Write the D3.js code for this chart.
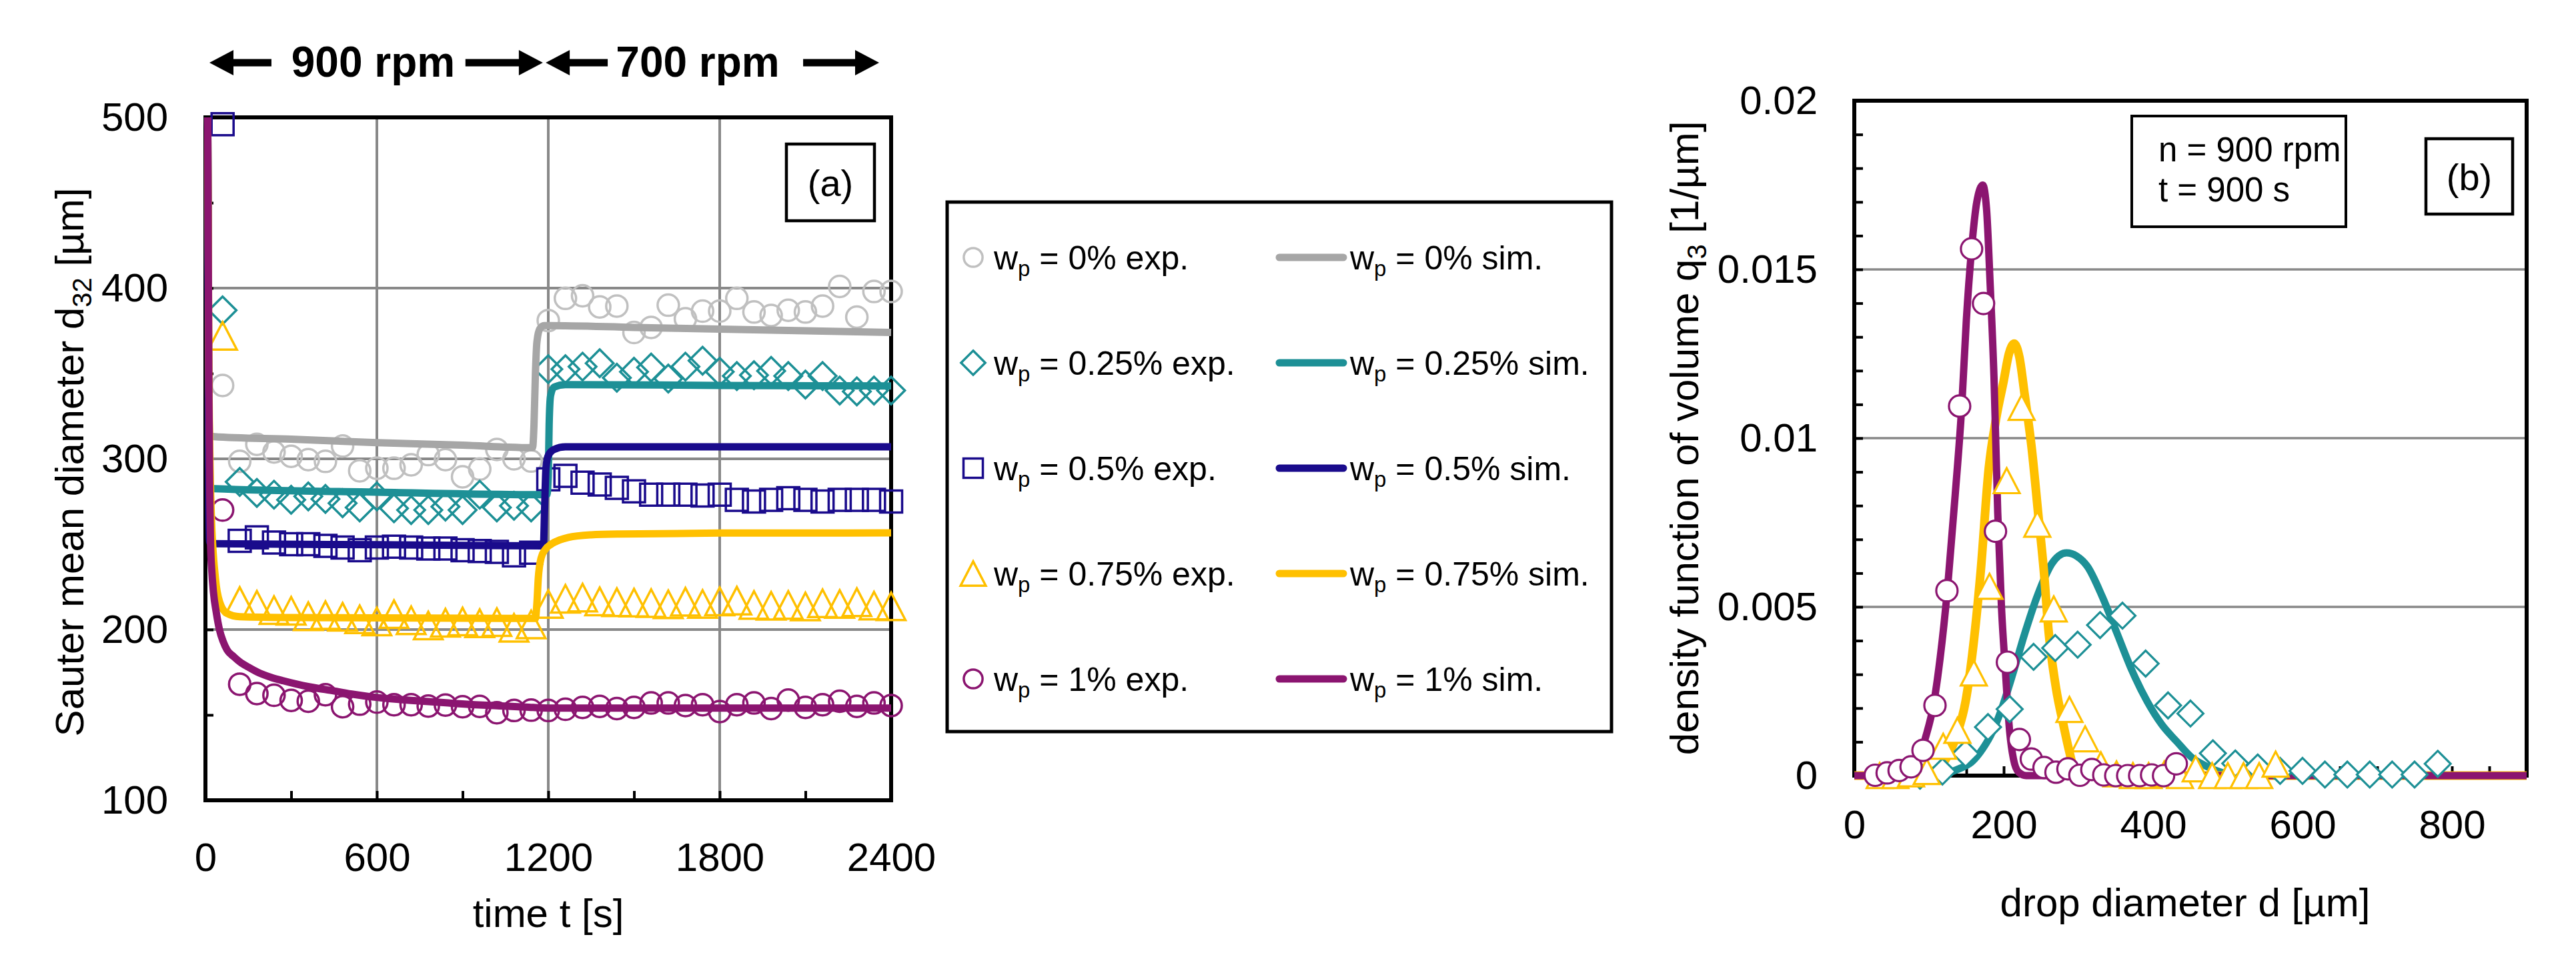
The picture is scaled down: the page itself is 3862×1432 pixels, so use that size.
<!DOCTYPE html>
<html>
<head>
<meta charset="utf-8">
<script src="https://cdn.jsdelivr.net/npm/d3@7"></script>
<style>
html,body{margin:0;padding:0;background:#fff;}
</style>
</head>
<body>
<svg id="chart" width="3862" height="1432"></svg>
<script>
'use strict';
// ---------- panel (a): d32 over time ----------
const tExp = [60,120,180,240,300,360,420,480,540,600,660,720,780,840,900,960,1020,1080,1140,
  1200,1260,1320,1380,1440,1500,1560,1620,1680,1740,1800,1860,1920,1980,2040,2100,2160,2220,2280,2340,2400];
const d32Exp0 = [343,298.5,308.5,304,301.5,299.5,298.5,307.5,293,294.5,294.5,296.5,302.5,299.5,289.5,294,305.5,300,298.7,
  381,394,395.5,389,389.5,374,377,390,382,386.5,386.5,394,386,384,387,386,389.5,401,383,398,398];
const d32Exp025 = [387,286.5,280,279,276,278,276.5,274,271.5,278,271,270,270,272,270,279,271.5,272.5,271.5,
  352.5,352.5,354,356,347.5,351,353.5,347,354,357.5,351,348.5,349,351.5,348.5,343.5,348.5,340,339.5,340,340];
const d32Exp05 = [496,252,254,251,250,250,249,248,246.5,248,248.5,248,247.5,247.5,246.5,246,245.5,243.5,245,
  288,290,286,285,283,281,279,279,279,278.5,279,276,275,276,277,276,275,276,276,276,275];
const d32Exp075 = [372,216.7,214.5,211.4,211,207.8,208.4,207.5,206,204.7,209,205.4,202.4,204,204.7,203.7,204.3,201,203,
  215,218,218.7,216.5,216,215.8,215.5,214.8,216.3,215,216.5,216.9,214.4,213.9,214.4,213.5,215.4,215,216,214,213.6];
const d32Exp1 = [270,168,162.5,161.5,158.5,158,161.8,154.8,156.3,157.5,156,156,155.2,155.8,154.8,155,151.3,152.6,152.8,
  152.6,153.3,154.4,155,153.7,154.4,157,157,155.5,156,152,156,157,153.7,158.7,154.4,156,158,155,157,155.5];

const d32Sim0 = [[8,500],[10,420],[12,330],[15,314],[30,313],[300,311.5],[600,309.5],[900,308],[1145,306.5],[1150,320],
  [1155,350],[1160,368],[1170,376],[1185,378],[1200,378],[1500,377],[1800,376],[2100,375],[2400,374]];
const d32Sim025 = [[8,500],[10,400],[12,300],[15,283],[30,282.5],[600,280.5],[1195,279],[1200,290],[1203,320],[1208,337],
  [1220,342],[1260,343.5],[1800,343],[2400,342.7]];
const d32Sim05 = [[8,500],[10,380],[12,270],[15,251],[30,250.3],[600,249.7],[1183,249],[1187,270],[1192,295],[1200,302],
  [1220,305.5],[1260,307],[2400,307]];
const d32Sim075 = [[8,500],[12,350],[20,270],[35,230],[50,216],[75,209.5],[120,207.5],[300,207],[1155,206.5],[1160,215],
  [1165,230],[1175,242],[1190,247],[1210,250],[1240,252.5],[1270,254],[1350,255.5],[1450,256],[1800,256.5],[2400,256.6]];
const d32Sim1 = [[8,500],[10,420],[12,340],[15,280],[18,250],[22,235],[28,222],[38,210],[49,200],[62,193],[76,188],
  [100,184],[121,181],[150,178],[183,175],[230,172],[272,170],[320,168],[362,166.5],[451,164],[520,162],[585,160.5],
  [680,159],[764,158],[850,157],[943,156],[1030,155.3],[1121,154.6],[1200,154],[1800,154],[2400,154]];

const legendLabels = ['0%','0.25%','0.5%','0.75%','1%'];
const yTicksA = [100,200,300,400,500];
const yMinorA = [150,250,350,450];
const xTicksA = [0,600,1200,1800,2400];
const xMinorA = [300,900,1500,2100];

// ---------- panel (b): volume density at n = 900 rpm, t = 900 s ----------
const dExp025 = [88,118,149,179,208,240,269,299,329,359,390,420,450,480,510,540,570,600,630,660,690,720,750,781];
const qExp025 = [0,0.00012,0.00065,0.00144,0.00197,0.00352,0.00378,0.00388,0.00446,0.00474,0.00332,0.00208,0.00184,
  0.00066,0.00036,0.00024,0.00014,0.00014,0.00003,0.00003,0.00003,0.00003,0.00003,0.00035];
const dExp075 = [34,55,76,97,119,138,160,181,204,224,245,267,288,309,330,351,373,394,415,436,457,479,500,521,542,564];
const qExp075 = [0,0,0.00005,0.00012,0.00087,0.00134,0.00304,0.00561,0.00874,0.01091,0.00745,0.00494,0.00196,0.00109,
  0.00032,0.00005,0,0,0.00005,0,0.0002,0,0,0,0,0.00034];
const dExp1 = [28,44,60,76,92,108,124,141,157,173,189,205,221,237,254,270,286,302,318,334,350,366,382,398,414,431];
const qExp1 = [0.00001,0.00008,0.00015,0.00026,0.00075,0.00208,0.00548,0.01095,0.01561,0.01399,0.00724,0.00336,0.00107,
  0.00049,0.00024,0.0001,0.0002,0.00001,0.00018,0.00002,0,0,0,0.00002,0,0.00035];

const qSim025 = [[0,0],[110,0],[120,0.00005],[140,0.0002],[157,0.0004],[172,0.0008],[185,0.0013],[196,0.0019],[212,0.003],
  [228,0.0042],[248,0.0055],[265,0.0063],[284,0.0066],[298,0.0065],[312,0.0062],[332,0.0053],[352,0.0042],[372,0.0031],
  [392,0.0022],[412,0.0015],[432,0.001],[451,0.00055],[471,0.00028],[491,0.0001],[520,0],[900,0]];
const qSim075 = [[0,0],[90,0],[103,0.0001],[120,0.0004],[137,0.0012],[149,0.0022],[158,0.0036],[169,0.006],[180,0.0091],
  [190,0.0106],[200,0.0117],[207,0.0125],[214,0.0128],[221,0.0124],[228,0.0113],[238,0.0096],[246,0.0078],[254,0.006],
  [260,0.0043],[270,0.0026],[280,0.0015],[288,0.0007],[296,0.0001],[310,0],[900,0]];
const qSim1 = [[0,0],[60,0],[75,0.0001],[85,0.0004],[95,0.0011],[106,0.0021],[115,0.0035],[125,0.0056],[135,0.0083],
  [144,0.011],[150,0.0135],[157,0.0156],[164,0.017],[172,0.0175],[177,0.0168],[182,0.0145],[187,0.0118],[192,0.0078],
  [197,0.005],[202,0.0032],[208,0.0013],[213,0.0005],[220,0.0001],[230,0],[900,0]];

const yTicksB = [0,0.005,0.01,0.015,0.02];
const yMinorB = [0.001,0.002,0.003,0.004,0.006,0.007,0.008,0.009,0.011,0.012,0.013,0.014,0.016,0.017,0.018,0.019];
const xTicksB = [0,200,400,600,800];
const xMinorB = [50,100,150,250,300,350,450,500,550,650,700,750,850,900];

const FONT = '"Liberation Sans", Arial, Helvetica, sans-serif';
const col = { grayM:'#c0c0c0', grayL:'#a6a6a6', teal:'#1d9096', navy:'#1a0b8c', yellow:'#ffc000', purple:'#8b1570', grid:'#898989' };

const svg = d3.select('#chart').style('font-family', FONT);

const xA = d3.scaleLinear().domain([0,2400]).range([308,1336]);
const yA = d3.scaleLinear().domain([100,500]).range([1200,176]);
const xB = d3.scaleLinear().domain([0,900]).range([2780,3788]);
const yB = d3.scaleLinear().domain([0,0.02]).range([1163,151]);

function markerPath(shape, s) {
  const p = d3.path();
  if (shape==='circle') { p.arc(0,0,s,0,2*Math.PI); p.closePath(); }
  else if (shape==='square') { p.rect(-s,-s,2*s,2*s); }
  else if (shape==='diamond') { const k=s*1.25; p.moveTo(0,-k); p.lineTo(k,0); p.lineTo(0,k); p.lineTo(-k,0); p.closePath(); }
  else { const h=s*1.25, w=s*1.3; p.moveTo(0,-h); p.lineTo(w,h); p.lineTo(-w,h); p.closePath(); }
  return p.toString();
}

function subText(sel, parts, subSize) {
  parts.forEach(([txt, sub], i) => {
    const t = sel.append('tspan').text(txt);
    if (sub) t.style('font-size', subSize+'px').attr('dy', '0.3em');
    else if (i>0 && parts[i-1][1]) t.attr('dy', '-0.2em');
  });
  return sel;
}

function styleAxis(g, fs) {
  g.select('.domain').remove();
  g.selectAll('.tick line').attr('stroke','#000').attr('stroke-width',4);
  g.selectAll('.tick text').attr('fill','#000').style('font-size',fs+'px').style('font-family',FONT);
}

// ===== panel (a) =====
const pa = svg.append('g');
pa.selectAll('line.vg').data([600,1200,1800]).join('line')
  .attr('x1',d=>xA(d)).attr('x2',d=>xA(d)).attr('y1',yA(100)).attr('y2',yA(500))
  .attr('stroke',col.grid).attr('stroke-width',4);
pa.selectAll('line.hg').data([200,300,400]).join('line')
  .attr('x1',xA(0)).attr('x2',xA(2400)).attr('y1',d=>yA(d)).attr('y2',d=>yA(d))
  .attr('stroke',col.grid).attr('stroke-width',4);

pa.append('g').attr('transform',`translate(${xA(0)},0)`)
  .call(d3.axisLeft(yA).tickValues(yTicksA).tickSize(-12).tickPadding(56)).call(styleAxis,60);
pa.append('g').attr('transform',`translate(${xA(0)},0)`)
  .call(d3.axisLeft(yA).tickValues(yMinorA).tickSize(-12).tickFormat('')).call(styleAxis,60);
pa.append('g').attr('transform',`translate(0,${yA(100)})`)
  .call(d3.axisBottom(xA).tickValues(xTicksA).tickSize(-14).tickPadding(63).tickFormat(d3.format('d'))).call(styleAxis,60);
pa.append('g').attr('transform',`translate(0,${yA(100)})`)
  .call(d3.axisBottom(xA).tickValues(xMinorA).tickSize(-14).tickFormat('')).call(styleAxis,60);

pa.append('rect').attr('x',xA(0)).attr('y',yA(500)).attr('width',xA(2400)-xA(0)).attr('height',yA(100)-yA(500))
  .attr('fill','none').attr('stroke','#000').attr('stroke-width',6);

const seriesA = [
  { exp:d32Exp0,   sim:d32Sim0,   shape:'circle',   mark:col.grayM,  line:col.grayL },
  { exp:d32Exp025, sim:d32Sim025, shape:'diamond',  mark:col.teal,   line:col.teal },
  { exp:d32Exp05,  sim:d32Sim05,  shape:'square',   mark:col.navy,   line:col.navy },
  { exp:d32Exp075, sim:d32Sim075, shape:'triangle', mark:col.yellow, line:col.yellow },
  { exp:d32Exp1,   sim:d32Sim1,   shape:'circle',   mark:col.purple, line:col.purple }
];
const lineA = d3.line().x(d=>xA(d[0])).y(d=>yA(d[1])).curve(d3.curveMonotoneX);
const markSizeA = { circle:16, square:16.5, diamond:16.5, triangle:16.5 };

seriesA.forEach(s => {
  pa.append('g').selectAll('path').data(tExp.map((t,i)=>[t,s.exp[i]])).join('path')
    .attr('transform',d=>`translate(${xA(d[0])},${yA(d[1])})`)
    .attr('d',markerPath(s.shape, markSizeA[s.shape]))
    .attr('fill','none').attr('stroke',s.mark).attr('stroke-width',3.5).attr('stroke-linejoin','miter');
});
seriesA.forEach(s => {
  pa.append('path').datum(s.sim).attr('d',lineA)
    .attr('fill','none').attr('stroke',s.line).attr('stroke-width',11).attr('stroke-linejoin','round');
});

// axis titles (a)
subText(pa.append('text').attr('transform','translate(125,693) rotate(-90)').attr('text-anchor','middle')
  .style('font-size','60px').attr('fill','#000'),
  [['Sauter mean diameter d',false],['32',true],[' [µm]',false]], 40);
pa.append('text').attr('x',(xA(0)+xA(2400))/2).attr('y',1390).attr('text-anchor','middle')
  .style('font-size','60px').text('time t [s]');

// panel tag (a)
pa.append('rect').attr('x',1179).attr('y',216).attr('width',132).attr('height',115)
  .attr('fill','#fff').attr('stroke','#000').attr('stroke-width',4.5);
pa.append('text').attr('x',1245).attr('y',294).attr('text-anchor','middle').style('font-size','56px').text('(a)');

// speed annotation above (a)
const ann = pa.append('g');
function arrow(t0, t1) {
  const x0 = xA(t0), x1 = xA(t1), y = 94, dir = Math.sign(x1-x0), head = 36;
  ann.append('line').attr('x1',x0).attr('x2',x1-dir*head*0.8).attr('y1',y).attr('y2',y)
    .attr('stroke','#000').attr('stroke-width',11);
  ann.append('path').attr('d',`M${x1},${y}L${x1-dir*head},${y-19}L${x1-dir*head},${y+19}Z`).attr('fill','#000');
}
arrow(231,14); arrow(910,1181); arrow(1408,1191); arrow(2092,2358);
ann.append('text').attr('x',xA(587)).attr('y',115).attr('text-anchor','middle')
  .style('font-size','64px').style('font-weight','bold').text('900 rpm');
ann.append('text').attr('x',xA(1723)).attr('y',115).attr('text-anchor','middle')
  .style('font-size','64px').style('font-weight','bold').text('700 rpm');

// legend
const lg = svg.append('g');
lg.append('rect').attr('x',1420).attr('y',303).attr('width',996).attr('height',794)
  .attr('fill','#fff').attr('stroke','#000').attr('stroke-width',5);
seriesA.forEach((s,i) => {
  const y = 386 + i*158;
  lg.append('path').attr('transform',`translate(1459,${y})`).attr('d',markerPath(s.shape, markSizeA[s.shape]*0.88))
    .attr('fill','none').attr('stroke',s.mark).attr('stroke-width',3.5);
  subText(lg.append('text').attr('x',1490).attr('y',y+18).style('font-size','50px'),
    [['w',false],['p',true],[` = ${legendLabels[i]} exp.`,false]], 33);
  lg.append('line').attr('x1',1918).attr('x2',2014).attr('y1',y).attr('y2',y)
    .attr('stroke',s.line).attr('stroke-width',11).attr('stroke-linecap','round');
  subText(lg.append('text').attr('x',2024).attr('y',y+18).style('font-size','50px'),
    [['w',false],['p',true],[` = ${legendLabels[i]} sim.`,false]], 33);
});

// ===== panel (b) =====
const pb = svg.append('g');
pb.selectAll('line.hg').data([0.005,0.01,0.015]).join('line')
  .attr('x1',xB(0)).attr('x2',xB(900)).attr('y1',d=>yB(d)).attr('y2',d=>yB(d))
  .attr('stroke',col.grid).attr('stroke-width',3.5);
pb.append('g').attr('transform',`translate(${xB(0)},0)`)
  .call(d3.axisLeft(yB).tickValues(yTicksB).tickSize(-13).tickPadding(55).tickFormat(d=>d===0?'0':String(d))).call(styleAxis,60);
pb.append('g').attr('transform',`translate(${xB(0)},0)`)
  .call(d3.axisLeft(yB).tickValues(yMinorB).tickSize(-13).tickFormat('')).call(styleAxis,60);
pb.append('g').attr('transform',`translate(0,${yB(0)})`)
  .call(d3.axisBottom(xB).tickValues(xTicksB).tickSize(-14).tickPadding(51).tickFormat(d3.format('d'))).call(styleAxis,60);
pb.append('g').attr('transform',`translate(0,${yB(0)})`)
  .call(d3.axisBottom(xB).tickValues(xMinorB).tickSize(-14).tickFormat('')).call(styleAxis,60);
pb.append('rect').attr('x',xB(0)).attr('y',yB(0.02)).attr('width',xB(900)-xB(0)).attr('height',yB(0)-yB(0.02))
  .attr('fill','none').attr('stroke','#000').attr('stroke-width',6);

const lineB = d3.line().x(d=>xB(d[0])).y(d=>yB(d[1])).curve(d3.curveMonotoneX);
const seriesB = [
  { d:dExp025, q:qExp025, sim:qSim025, shape:'diamond',  c:col.teal,   w:11 },
  { d:dExp075, q:qExp075, sim:qSim075, shape:'triangle', c:col.yellow, w:13 },
  { d:dExp1,   q:qExp1,   sim:qSim1,   shape:'circle',   c:col.purple, w:11 }
];
const markSizeB = { circle:16, diamond:15.5, triangle:15 };
seriesB.forEach(s => {
  pb.append('path').datum(s.sim).attr('d',lineB)
    .attr('fill','none').attr('stroke',s.c).attr('stroke-width',s.w).attr('stroke-linejoin','round');
});
seriesB.forEach(s => {
  pb.append('g').selectAll('path').data(s.d.map((d,i)=>[d,s.q[i]])).join('path')
    .attr('transform',d=>`translate(${xB(d[0])},${yB(d[1])})`)
    .attr('d',markerPath(s.shape, markSizeB[s.shape]))
    .attr('fill','#fff').attr('stroke',s.c).attr('stroke-width',3.2);
});

subText(pb.append('text').attr('transform','translate(2546,657) rotate(-90)').attr('text-anchor','middle')
  .style('font-size','60px'),
  [['density function of volume q',false],['3',true],[' [1/µm]',false]], 40);
pb.append('text').attr('x',3276).attr('y',1374).attr('text-anchor','middle')
  .style('font-size','60px').text('drop diameter d [µm]');

pb.append('rect').attr('x',3196).attr('y',174).attr('width',321).attr('height',166)
  .attr('fill','#fff').attr('stroke','#000').attr('stroke-width',4);
pb.append('text').attr('x',3236).attr('y',242).style('font-size','51px').text('n = 900 rpm');
pb.append('text').attr('x',3236).attr('y',302).style('font-size','51px').text('t = 900 s');

pb.append('rect').attr('x',3637).attr('y',208).attr('width',130).attr('height',113)
  .attr('fill','#fff').attr('stroke','#000').attr('stroke-width',4.5);
pb.append('text').attr('x',3702).attr('y',285).attr('text-anchor','middle').style('font-size','56px').text('(b)');
</script>
</body>
</html>
